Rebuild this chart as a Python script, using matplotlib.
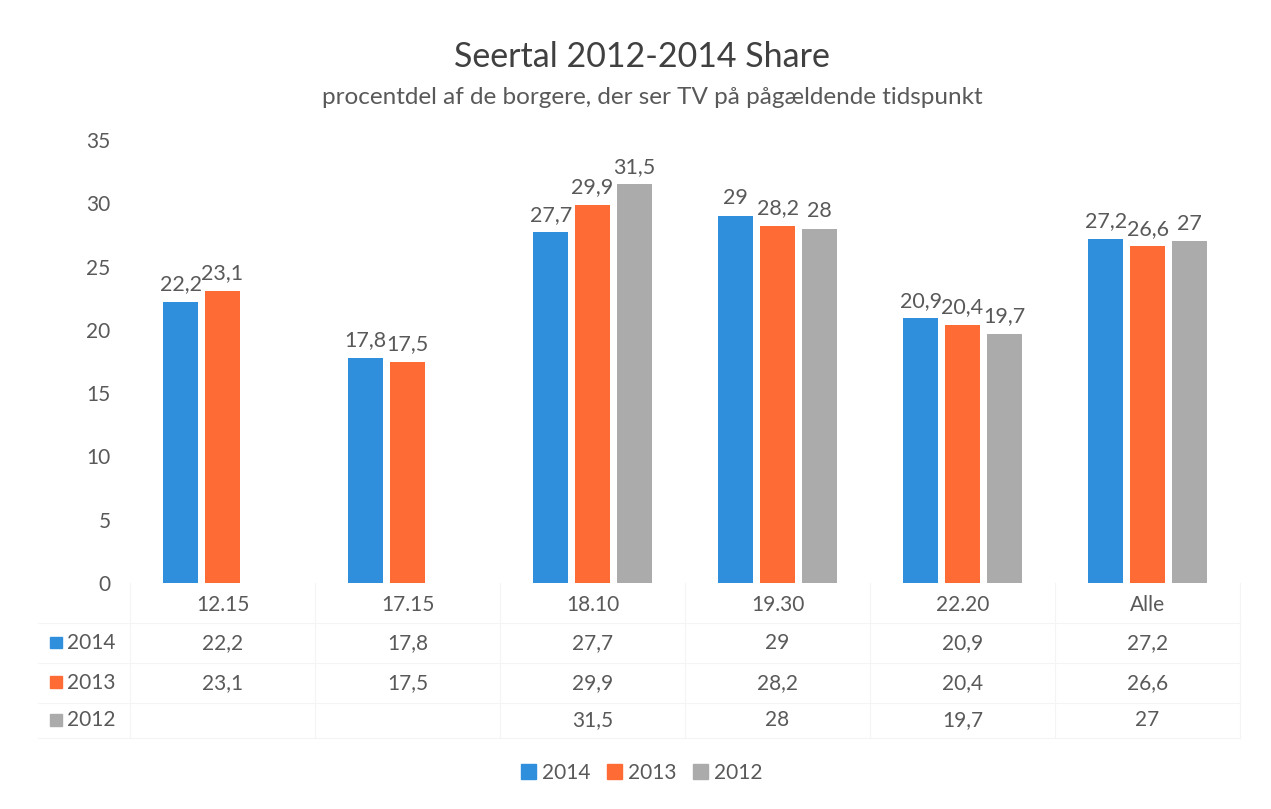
import numpy as np
import matplotlib.pyplot as plt
from matplotlib.patches import Rectangle

plt.rcParams['font.family'] = ['Lato', 'DejaVu Sans']

# data
categories = ['12.15', '17.15', '18.10', '19.30', '22.20', 'Alle']
years = ['2014', '2013', '2012']
share_2014 = [22.2, 17.8, 27.7, 29, 20.9, 27.2]
share_2013 = [23.1, 17.5, 29.9, 28.2, 20.4, 26.6]
share_2012 = [np.nan, np.nan, 31.5, 28, 19.7, 27]
series = [share_2014, share_2013, share_2012]
colors = ['#2F8FDD', '#FF6B35', '#ABABAB']
text_col = '#595959'

fig = plt.figure(figsize=(12.71, 8.09), dpi=100)
ax = fig.add_axes([130 / 1271, 1 - 583 / 809, 1110 / 1271, (583 - 140) / 809])

x = np.arange(len(categories))
width = 0.19
step = 0.226
for i, (vals, col) in enumerate(zip(series, colors)):
    pos = x + (i - 1) * step
    ax.bar(pos, vals, width=width, color=col, zorder=2)
    for p, v in zip(pos, vals):
        if np.isnan(v):
            continue
        lbl = f'{v:g}'.replace('.', ',')
        ax.text(p, v + 0.6, lbl, ha='center', va='bottom', fontsize=15.5, color=text_col)

ax.set_xlim(-0.5, len(categories) - 0.5)
ax.set_ylim(0, 35)
ax.set_yticks(range(0, 36, 5))
ax.tick_params(axis='y', length=0, labelsize=15, labelcolor=text_col, pad=14)
ax.set_xticks([])
for s in ax.spines.values():
    s.set_visible(False)

# title
fig.text(0.505, 1 - 57 / 809, 'Seertal 2012-2014 Share', ha='center', va='center',
         fontsize=24.5, color='#404040')
fig.text(0.513, 1 - 98 / 809, 'procentdel af de borgere, der ser TV på pågældende tidspunkt',
         ha='center', va='center', fontsize=17.5, color=text_col)

# data table below the chart
trans = ax.get_xaxis_transform()
row_y = [-0.05, -0.135, -0.225, -0.31]
for xi, c in zip(x, categories):
    ax.text(xi, row_y[0], c, transform=trans, ha='center', va='center',
            fontsize=15, color=text_col, clip_on=False)
for r, (yr, vals, col) in enumerate(zip(years, series, colors)):
    yy = row_y[r + 1]
    ax.add_patch(Rectangle((-0.93, yy - 0.012), 0.065, 0.026, transform=trans,
                           color=col, clip_on=False))
    ax.text(-0.84, yy, yr, transform=trans, ha='left', va='center',
            fontsize=15, color=text_col, clip_on=False)
    for xi, v in zip(x, vals):
        if np.isnan(v):
            continue
        ax.text(xi, yy, f'{v:g}'.replace('.', ','), transform=trans, ha='center',
                va='center', fontsize=15, color=text_col, clip_on=False)

# faint table grid
for b in np.arange(-0.5, len(categories), 1.0):
    ax.plot([b, b], [0, -0.35], transform=trans, color='#F4F4F4', lw=0.8, clip_on=False)
for yy in [-0.09, -0.18, -0.27, -0.35]:
    ax.plot([-1.0, len(categories) - 0.5], [yy, yy], transform=trans,
            color='#F4F4F4', lw=0.8, clip_on=False)

# legend
handles = [Rectangle((0, 0), 1, 1, color=c) for c in colors]
fig.legend(handles, years, loc='center', bbox_to_anchor=(0.505, 1 - 773 / 809), ncol=3,
           frameon=False, fontsize=15, handlelength=0.7, handleheight=0.7,
           handletextpad=0.3, columnspacing=0.8, labelcolor=text_col)

fig.savefig('out.png', dpi=100, facecolor='white')
